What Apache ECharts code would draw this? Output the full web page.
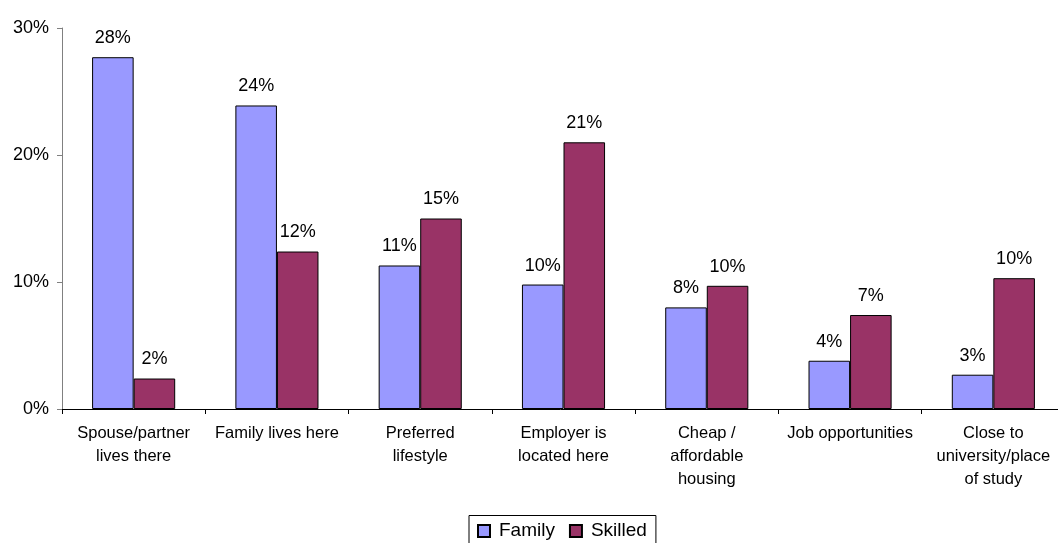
<!DOCTYPE html>
<html>
<head>
<meta charset="utf-8">
<title>Reasons for choosing location: Family vs Skilled</title>
<script src="https://cdn.jsdelivr.net/npm/echarts@6/dist/echarts.min.js"></script>
<style>
  html, body { margin: 0; padding: 0; background: #ffffff; }
  #chart { width: 1058px; height: 543px; }
</style>
</head>
<body>
<div id="chart"></div>
<script>
// Reasons for choosing a location, share of respondents (%)
const categories = [
  'Spouse/partner\nlives there',
  'Family lives here',
  'Preferred\nlifestyle',
  'Employer is\nlocated here',
  'Cheap /\naffordable\nhousing',
  'Job opportunities',
  'Close to\nuniversity/place\nof study'
];
const familyValues  = [27.7, 23.9, 11.3, 9.8, 8.0, 3.8, 2.7];
const skilledValues = [2.4, 12.4, 15.0, 21.0, 9.7, 7.4, 10.3];
const yTicks = [0, 10, 20, 30];

const FONT = '"Liberation Sans", Arial, sans-serif';

const pct = v => Math.round(v) + '%';

const labelStyle = {
  show: true,
  position: 'top',
  distance: 10,
  color: '#000',
  fontFamily: FONT,
  fontSize: 18,
  formatter: p => pct(p.value)
};

const chart = echarts.init(document.getElementById('chart'), null, { renderer: 'canvas' });

chart.setOption({
  animation: false,
  backgroundColor: '#ffffff',
  textStyle: { fontFamily: FONT },
  // plot area runs slightly past the right edge of the canvas
  grid: { left: 62, width: 1003, top: 28, bottom: 134, containLabel: false, outerBoundsMode: 'none' },
  legend: {
    left: 469,
    top: 515.5,
    orient: 'horizontal',
    icon: 'rect',
    itemWidth: 12,
    itemHeight: 12,
    itemGap: 14,
    padding: [6, 9, 12, 8],
    borderColor: '#000',
    borderWidth: 1,
    textStyle: { color: '#000', fontSize: 19, fontFamily: FONT, padding: [0, 0, 0, 4] },
    data: ['Family', 'Skilled']
  },
  xAxis: {
    type: 'category',
    data: categories,
    axisLine: { show: true, lineStyle: { color: '#000', width: 1 } },
    axisTick: { show: true, length: 5, lineStyle: { color: '#000' }, alignWithLabel: false },
    axisLabel: {
      interval: 0,
      margin: 13,
      color: '#000',
      fontFamily: FONT,
      fontSize: 16.5,
      lineHeight: 23,
      align: 'center'
    },
    splitLine: { show: false }
  },
  yAxis: {
    type: 'value',
    min: yTicks[0],
    max: yTicks[yTicks.length - 1],
    interval: yTicks[1] - yTicks[0],
    axisLine: { show: true, lineStyle: { color: '#808080', width: 1 } },
    axisTick: { show: true, length: 5, lineStyle: { color: '#808080' } },
    axisLabel: {
      margin: 13,
      color: '#000',
      fontFamily: FONT,
      fontSize: 18,
      formatter: v => v + '%'
    },
    splitLine: { show: false }
  },
  series: [
    {
      name: 'Family',
      type: 'bar',
      data: familyValues,
      barGap: '0%',
      barCategoryGap: '42%',
      itemStyle: { color: '#9999FF', borderColor: '#000', borderWidth: 1 },
      label: labelStyle
    },
    {
      name: 'Skilled',
      type: 'bar',
      data: skilledValues,
      barGap: '0%',
      barCategoryGap: '42%',
      itemStyle: { color: '#993366', borderColor: '#000', borderWidth: 1 },
      label: labelStyle
    }
  ]
});
</script>
</body>
</html>
